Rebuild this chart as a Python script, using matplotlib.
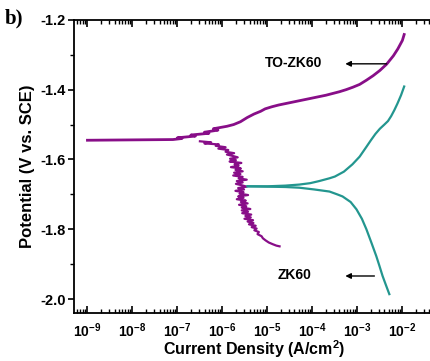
import numpy as np
import matplotlib
matplotlib.use('Agg')
import matplotlib.pyplot as plt
from matplotlib.ticker import LogLocator, MultipleLocator, FixedLocator

plt.rcParams['font.family'] = ['Liberation Sans', 'DejaVu Sans']
plt.rcParams['axes.unicode_minus'] = False
plt.rcParams['mathtext.fontset'] = 'custom'
plt.rcParams['mathtext.rm'] = 'Liberation Sans:bold'
plt.rcParams['mathtext.bf'] = 'Liberation Sans:bold'

# TO-ZK60, rama catodica (log i, E) - con el ruido que se ve en la figura
to_cat_logi = [-6.50, -6.25, -6.40, -6.08, -6.15, -5.93, -6.09, -5.87, -5.93, -5.74,
               -5.90, -5.77, -5.66, -5.83, -5.70, -5.84, -5.58, -5.73, -5.64, -5.81,
               -5.59, -5.71, -5.55, -5.74, -5.60, -5.76, -5.55, -5.64, -5.46, -5.68,
               -5.55, -5.70, -5.57, -5.46, -5.65, -5.52, -5.71, -5.53, -5.62, -5.43,
               -5.65, -5.53, -5.68, -5.48, -5.59, -5.44, -5.63, -5.47, -5.57, -5.38,
               -5.57, -5.43, -5.56, -5.36, -5.49, -5.37, -5.51, -5.32, -5.44, -5.31,
               -5.41, -5.26, -5.35, -5.24, -5.29, -5.19, -5.22, -5.13, -5.10, -5.04,
               -4.97, -4.88, -4.80, -4.73]
to_cat_E = [-1.548, -1.551, -1.554, -1.557, -1.561, -1.565, -1.569, -1.573, -1.578, -1.582,
            -1.586, -1.590, -1.594, -1.598, -1.602, -1.606, -1.610, -1.614, -1.618, -1.622,
            -1.626, -1.630, -1.634, -1.638, -1.642, -1.646, -1.650, -1.654, -1.658, -1.662,
            -1.666, -1.670, -1.674, -1.678, -1.682, -1.686, -1.690, -1.694, -1.698, -1.702,
            -1.706, -1.710, -1.714, -1.718, -1.722, -1.726, -1.730, -1.734, -1.738, -1.742,
            -1.746, -1.750, -1.754, -1.758, -1.762, -1.766, -1.770, -1.774, -1.778, -1.782,
            -1.786, -1.790, -1.794, -1.798, -1.803, -1.808, -1.814, -1.820, -1.826, -1.832,
            -1.838, -1.843, -1.847, -1.849]

# TO-ZK60, rama anodica
to_an_logi = [-9.0, -7.1, -6.9, -7.0, -6.6, -6.7, -6.3, -6.4, -6.1, -6.2,
              -5.9, -5.75, -5.6, -5.45, -5.3, -5.15, -5.05, -4.9, -4.75, -4.6,
              -4.45, -4.3, -4.15, -4.0, -3.85, -3.7, -3.55, -3.4, -3.25, -3.1,
              -2.95, -2.8, -2.65, -2.5, -2.35, -2.2, -2.1, -2.0, -1.96]
to_an_E = [-1.545, -1.543, -1.540, -1.538, -1.533, -1.530, -1.525, -1.522, -1.516, -1.512,
           -1.505, -1.500, -1.492, -1.480, -1.470, -1.462, -1.455, -1.449, -1.444, -1.440,
           -1.436, -1.432, -1.428, -1.424, -1.420, -1.416, -1.411, -1.406, -1.400, -1.393,
           -1.385, -1.373, -1.360, -1.345, -1.327, -1.303, -1.283, -1.259, -1.242]

# ZK60
zk_an_logi = [-5.44, -5.0, -4.6, -4.29, -4.05, -3.85, -3.62, -3.5, -3.3, -3.11,
              -2.95, -2.8, -2.7, -2.6, -2.5, -2.4, -2.32, -2.25, -2.18, -2.11,
              -2.03, -1.96]
zk_an_E = [-1.677, -1.677, -1.675, -1.672, -1.668, -1.662, -1.654, -1.649, -1.635, -1.614,
           -1.592, -1.564, -1.545, -1.527, -1.512, -1.500, -1.490, -1.476, -1.459, -1.440,
           -1.416, -1.391]
zk_cat_logi = [-5.44, -5.0, -4.6, -4.29, -3.96, -3.62, -3.45, -3.33, -3.15, -3.02,
               -2.90, -2.80, -2.69, -2.58, -2.51, -2.44, -2.36, -2.29]
zk_cat_E = [-1.677, -1.678, -1.679, -1.681, -1.686, -1.692, -1.700, -1.706, -1.722, -1.743,
            -1.770, -1.800, -1.838, -1.877, -1.905, -1.934, -1.962, -1.986]

xticks_exp = [-9, -8, -7, -6, -5, -4, -3, -2]
yticks = [-1.2, -1.4, -1.6, -1.8, -2.0]

morado = '#880e88'
verde = '#23968f'

fig = plt.figure(figsize=(4.3, 3.61), dpi=100)
ax = fig.add_axes([0.172, 0.133, 0.837, 0.812])

ax.plot(10.0 ** np.array(to_cat_logi), to_cat_E, color=morado, lw=1.6)
ax.plot(10.0 ** np.array(to_an_logi), to_an_E, color=morado, lw=2.0)
ax.plot(10.0 ** np.array(zk_an_logi), zk_an_E, color=verde, lw=1.6)
ax.plot(10.0 ** np.array(zk_cat_logi), zk_cat_E, color=verde, lw=1.6)

ax.set_xscale('log')
ax.set_xlim(10 ** -9.3, 10 ** -1.3)
ax.set_ylim(-2.04, -1.2)

ax.xaxis.set_major_locator(FixedLocator([10.0 ** e for e in xticks_exp]))
ax.xaxis.set_minor_locator(LogLocator(base=10, subs=np.arange(2, 10), numticks=20))
ax.set_xticklabels([r'$\mathbf{10^{%d}}$' % e for e in xticks_exp])
ax.set_yticks(yticks)
ax.set_yticklabels(['%.1f' % v for v in yticks])
ax.yaxis.set_minor_locator(MultipleLocator(0.1))

ax.tick_params(axis='x', which='both', direction='in', top=True, labelsize=10, pad=6)
ax.tick_params(axis='x', which='major', length=5, width=1.2)
ax.tick_params(axis='x', which='minor', length=3, width=1)
ax.tick_params(axis='y', which='both', direction='out', labelsize=10.5, pad=2)
ax.tick_params(axis='y', which='major', length=4, width=1.2)
ax.tick_params(axis='y', which='minor', length=3, width=1)
for lab in ax.get_yticklabels():
    lab.set_fontweight('bold')
for s in ax.spines.values():
    s.set_linewidth(1.3)

ax.set_ylabel('Potential (V vs. SCE)', fontsize=12, fontweight='bold', labelpad=4)
ax.set_xlabel(r'Current Density (A/cm$^\mathbf{2}$)', fontsize=11.5, fontweight='bold', labelpad=-1)

# etiquetas con flechas
ax.annotate('', xy=(10 ** -3.33, -1.326), xytext=(10 ** -2.29, -1.326),
            arrowprops=dict(arrowstyle='-|>', color='black', lw=1, mutation_scale=8))
ax.text(10 ** -4.42, -1.324, 'TO-ZK60', fontsize=10, fontweight='bold', ha='center', va='center')
ax.annotate('', xy=(10 ** -3.33, -1.934), xytext=(10 ** -2.56, -1.934),
            arrowprops=dict(arrowstyle='-|>', color='black', lw=1, mutation_scale=8))
ax.text(10 ** -4.4, -1.932, 'ZK60', fontsize=10, fontweight='bold', ha='center', va='center')

fig.text(0.012, 0.948, 'b)', fontsize=15, fontweight='bold', family='Liberation Serif',
         ha='left', va='center')

fig.savefig('out.png', dpi=100)
